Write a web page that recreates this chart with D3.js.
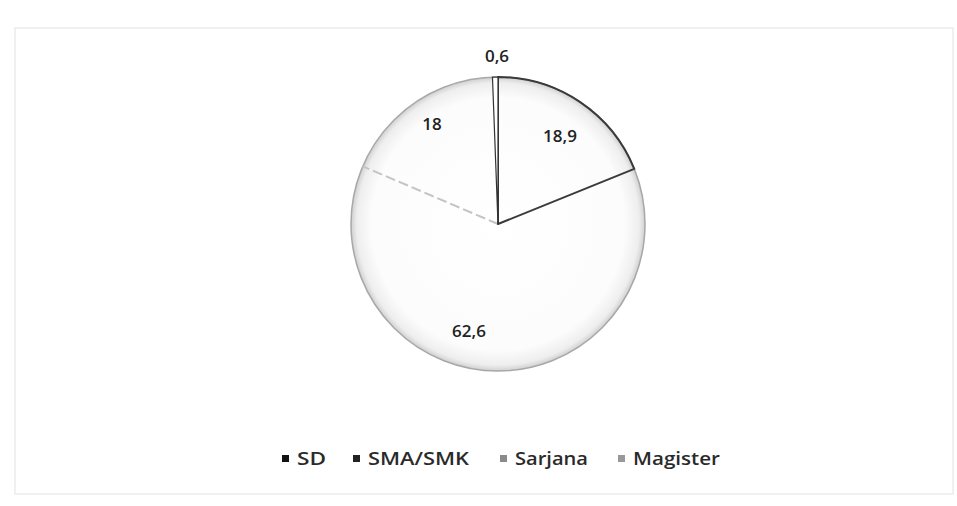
<!DOCTYPE html>
<html><head><meta charset="utf-8">
<script src="https://cdn.jsdelivr.net/npm/d3@7"></script>
<style>body{margin:0;background:#fff}</style>
</head><body>
<svg id="c" width="957" height="506"></svg>
<script>
const categories = ["SD", "SMA/SMK", "Sarjana", "Magister"];
const values = [18.9, 62.6, 18, 0.6];
const labels = ["18,9", "62,6", "18", "0,6"];
const legendColors = ["#111", "#222", "#8a8a8a", "#999"];

const svg = d3.select("#c");
const defs = svg.append("defs");
const cx = 498, cy = 224, r = 147;
const g1 = defs.append("radialGradient").attr("id","rg").attr("gradientUnits","userSpaceOnUse")
  .attr("cx",0).attr("cy",0).attr("r",r);
g1.append("stop").attr("offset","0%").attr("stop-color","#ffffff");
g1.append("stop").attr("offset","86%").attr("stop-color","#fcfcfc");
g1.append("stop").attr("offset","96%").attr("stop-color","#eeeeee");
g1.append("stop").attr("offset","100%").attr("stop-color","#d0d0d0");

svg.append("rect").attr("x",15).attr("y",28).attr("width",938).attr("height",466)
  .attr("fill","none").attr("stroke","#ececec").attr("stroke-width",1.5);

const data = categories.map((c,i)=>({cat:c, v:values[i], label:labels[i], i}));
const pie = d3.pie().value(d=>d.v).sort(null);
const arcs = pie(data);
const arc = d3.arc().innerRadius(0).outerRadius(r);
const g = svg.append("g").attr("transform",`translate(${cx},${cy})`);

g.selectAll("path.sl").data(arcs).enter().append("path").attr("class","sl")
  .attr("d",arc).attr("fill","url(#rg)").attr("stroke","none");
g.append("circle").attr("r",r).attr("fill","none").attr("stroke","#a8a8a8").attr("stroke-width",1.5);
const sa = arcs[1].endAngle;
g.append("line").attr("x1",0).attr("y1",0)
  .attr("x2",r*Math.sin(sa)).attr("y2",-r*Math.cos(sa))
  .attr("stroke","#c4c4c4").attr("stroke-width",2).attr("stroke-dasharray","10,4");
g.append("path").attr("d",arc(arcs[0])).attr("fill","none").attr("stroke","#3a3a3a").attr("stroke-width",2).attr("stroke-linejoin","round");
g.append("path").attr("d",arc(arcs[3])).attr("fill","#fff").attr("stroke","#333").attr("stroke-width",1.2);

const labelPos = [[62,-89],[-29,106],[-66,-101],[-1,-169]];
g.selectAll("text.lbl").data(arcs).enter().append("text")
  .attr("class","lbl")
  .attr("x",d=>labelPos[d.data.i][0]).attr("y",d=>labelPos[d.data.i][1])
  .attr("text-anchor","middle").attr("dominant-baseline","central")
  .attr("font-family","Open Sans, Liberation Sans, sans-serif")
  .attr("font-size",17).attr("font-weight",600).attr("fill","#222")
  .text(d=>d.data.label);

const legX = [282, 353, 500, 618];
const legW = [29, 101, 73, 87];
const lg = svg.append("g");
categories.forEach((c,i)=>{
  lg.append("rect").attr("x",legX[i]).attr("y",455).attr("width",7).attr("height",7).attr("fill",legendColors[i]);
  lg.append("text").attr("x",legX[i]+15).attr("y",458).attr("dominant-baseline","central")
    .attr("font-family","Open Sans, Liberation Sans, sans-serif").attr("font-size",18)
    .attr("font-weight",600).attr("fill","#2a2a2a")
    .attr("textLength",legW[i]).attr("lengthAdjust","spacingAndGlyphs").text(c);
});
</script>
</body></html>
